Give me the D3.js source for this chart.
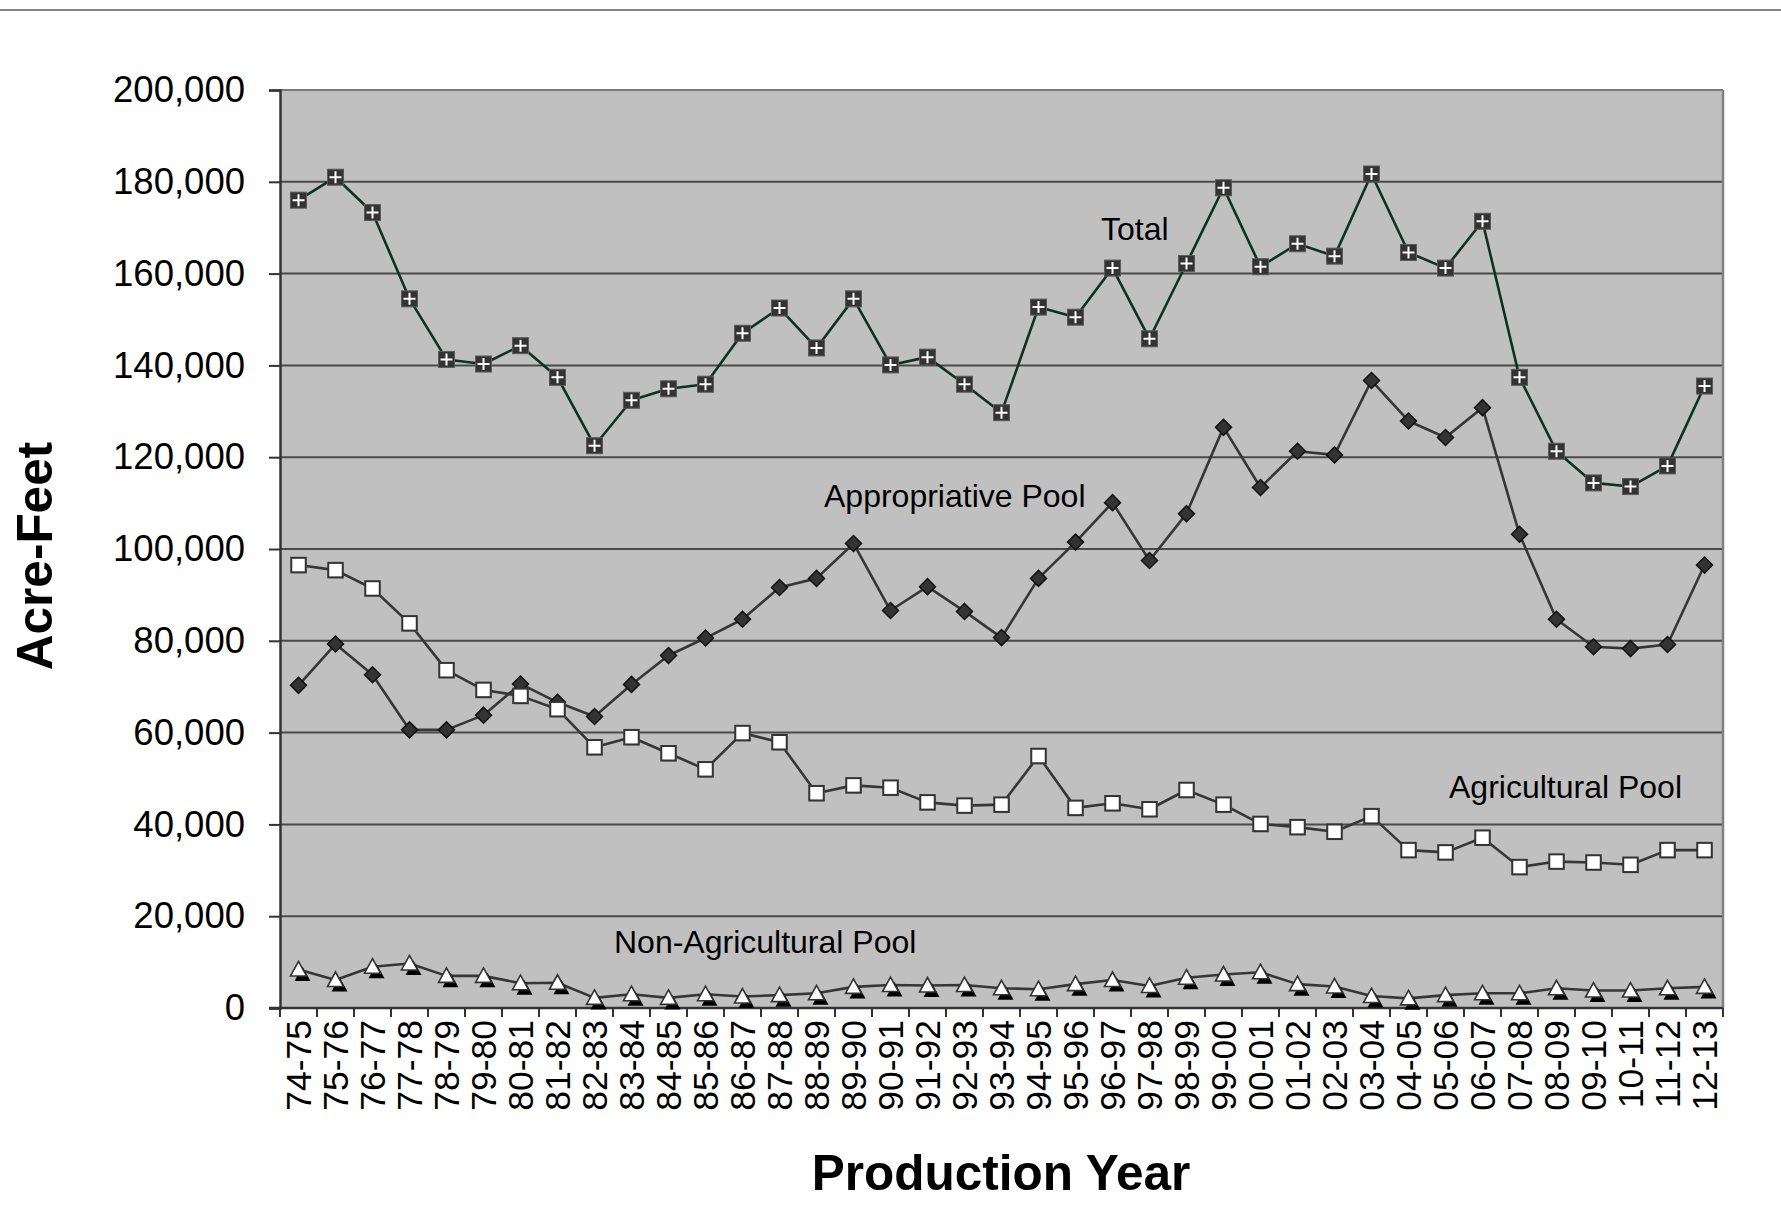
<!DOCTYPE html>
<html>
<head>
<meta charset="utf-8">
<script src="https://cdn.jsdelivr.net/npm/d3@7"></script>
<style>
  html, body { margin: 0; padding: 0; background: #ffffff; }
  svg { display: block; font-family: "Liberation Sans", Arial, Helvetica, sans-serif; }
</style>
</head>
<body>
<svg id="chart" width="1781" height="1223"></svg>
<script>
// Production years (x categories)
const categories = [
  "74-75","75-76","76-77","77-78","78-79","79-80","80-81","81-82","82-83","83-84",
  "84-85","85-86","86-87","87-88","88-89","89-90","90-91","91-92","92-93","93-94",
  "94-95","95-96","96-97","97-98","98-99","99-00","00-01","01-02","02-03","03-04",
  "04-05","05-06","06-07","07-08","08-09","09-10","10-11","11-12","12-13"
];

// Acre-feet per production year
const totalPool = [
  176000,181000,173300,154500,141300,140300,144300,137400,122500,132400,
  134900,135900,147000,152500,143800,154500,140100,141800,135900,129700,
  152700,150500,161200,145800,162200,178700,161500,166500,163800,181700,
  164600,161200,171400,137400,121300,114400,113600,118100,135500
];
const appropriativePool = [
  70300,79300,72600,60600,60600,63800,70600,66600,63500,70500,
  76800,80600,84700,91600,93600,101200,86600,91800,86400,80700,
  93600,101500,110100,97500,107700,126500,113400,121300,120500,136700,
  127900,124300,130800,103200,84700,78700,78300,79200,96500
];
const agriculturalPool = [
  96500,95400,91400,83800,73600,69300,68000,65100,56800,59000,
  55500,52000,59900,57900,46800,48500,48000,44800,44100,44300,
  54900,43600,44600,43300,47500,44300,40100,39400,38400,41800,
  34400,33900,37100,30700,31900,31700,31200,34400,34400
];
const nonAgriculturalPool = [
  8400,6100,9000,9700,7000,7000,5400,5500,2200,3000,
  2200,3000,2500,2800,3200,4600,5000,4900,5000,4300,
  4100,5200,6100,4800,6600,7300,7800,5200,4700,2600,
  2100,2800,3200,3200,4300,3800,3800,4300,4600
];

const yTicks = [0,20000,40000,60000,80000,100000,120000,140000,160000,180000,200000];

const seriesLabels = [
  { text: "Total", x: 1101, y: 240 },
  { text: "Appropriative Pool", x: 824, y: 507 },
  { text: "Agricultural Pool", x: 1449, y: 798 },
  { text: "Non-Agricultural Pool", x: 614, y: 953 }
];

const svg = d3.select("#chart");
const W = 1781, H = 1223;
const plot = { left: 280, right: 1723, top: 90, bottom: 1008 };

// rule along the very top of the canvas
svg.append("line")
  .attr("x1", 0).attr("x2", W).attr("y1", 10).attr("y2", 10)
  .attr("stroke", "#5a5a5a").attr("stroke-width", 1.5);

const x = d3.scaleBand().domain(categories).range([plot.left, plot.right]).padding(0);
const y = d3.scaleLinear().domain([0, 200000]).range([plot.bottom, plot.top]);
const cx = d => x(d) + x.bandwidth() / 2;

// plot background
svg.append("rect")
  .attr("x", plot.left).attr("y", plot.top)
  .attr("width", plot.right - plot.left).attr("height", plot.bottom - plot.top)
  .attr("fill", "#c0c0c0");

// horizontal gridlines
svg.append("g").selectAll("line").data(yTicks.filter(v => v > 0)).join("line")
  .attr("x1", plot.left).attr("x2", plot.right)
  .attr("y1", d => y(d)).attr("y2", d => y(d))
  .attr("stroke", d => d === 200000 ? "#7a7a7a" : "#4a4a4a")
  .attr("stroke-width", 2);

// right border of plot
svg.append("line")
  .attr("x1", plot.right).attr("x2", plot.right).attr("y1", plot.top).attr("y2", plot.bottom)
  .attr("stroke", "#808080").attr("stroke-width", 2.5);

// y axis
const yAxis = svg.append("g")
  .attr("transform", `translate(${plot.left},0)`)
  .call(d3.axisLeft(y).tickValues(yTicks).tickFormat(d3.format(",")).tickSize(11).tickPadding(24));
yAxis.select(".domain").attr("stroke", "#333").attr("stroke-width", 2.5);
yAxis.selectAll(".tick line").attr("stroke", "#333").attr("stroke-width", 2);
yAxis.selectAll("text").attr("font-size", 36.5).attr("fill", "#000")
  .attr("font-family", "'Liberation Sans', Arial, sans-serif");

// x axis: labels at category centres, ticks on category boundaries
const xAxis = svg.append("g")
  .attr("transform", `translate(0,${plot.bottom})`)
  .call(d3.axisBottom(x).tickSize(0).tickPadding(0));
xAxis.select(".domain").remove();
xAxis.selectAll(".tick text")
  .attr("transform", "translate(0,12) rotate(-90)")
  .attr("text-anchor", "end")
  .attr("x", 0).attr("y", 0).attr("dy", "0.35em")
  .attr("font-size", 35.5).attr("fill", "#000")
  .attr("font-family", "'Liberation Sans', Arial, sans-serif");

const boundaries = categories.map(c => x(c)).concat([plot.right]);
svg.append("g").selectAll("line").data(boundaries).join("line")
  .attr("x1", d => d).attr("x2", d => d)
  .attr("y1", plot.bottom).attr("y2", plot.bottom + 9)
  .attr("stroke", "#333").attr("stroke-width", 2);
svg.append("line")
  .attr("x1", plot.left - 11).attr("x2", plot.right)
  .attr("y1", plot.bottom).attr("y2", plot.bottom)
  .attr("stroke", "#333").attr("stroke-width", 2.5);

const line = d3.line().x((d, i) => cx(categories[i])).y(d => y(d));

function drawLine(values, color) {
  svg.append("path").datum(values)
    .attr("d", line).attr("fill", "none")
    .attr("stroke", color).attr("stroke-width", 2.6).attr("stroke-linejoin", "round");
}

// Appropriative Pool: dark diamonds
drawLine(appropriativePool, "#363636");
svg.append("g").selectAll("path").data(appropriativePool).join("path")
  .attr("transform", (d, i) => `translate(${cx(categories[i])},${y(d)})`)
  .attr("d", "M0,-8L8,0L0,8L-8,0Z")
  .attr("fill", "#333").attr("stroke", "#111").attr("stroke-width", 1.5);

// Agricultural Pool: white squares
drawLine(agriculturalPool, "#363636");
const agG = svg.append("g");
agG.selectAll("rect.sh").data(agriculturalPool).join("rect")
  .attr("class", "sh")
  .attr("x", (d, i) => cx(categories[i]) - 6).attr("y", d => y(d) - 6)
  .attr("width", 14.5).attr("height", 14.5)
  .attr("fill", "#8c8c8c").attr("opacity", 0.6);
agG.selectAll("rect.mk").data(agriculturalPool).join("rect")
  .attr("class", "mk")
  .attr("x", (d, i) => cx(categories[i]) - 7.25).attr("y", d => y(d) - 7.25)
  .attr("width", 14.5).attr("height", 14.5)
  .attr("fill", "#ffffff").attr("stroke", "#333").attr("stroke-width", 2);

// Non-Agricultural Pool: white triangles with black shadow
drawLine(nonAgriculturalPool, "#363636");
const tri = "M0,-8L8,6.5L-8,6.5Z";
const naG = svg.append("g");
naG.selectAll("path.sh").data(nonAgriculturalPool).join("path")
  .attr("class", "sh")
  .attr("transform", (d, i) => `translate(${cx(categories[i]) + 4},${y(d) + 5})`)
  .attr("d", tri).attr("fill", "#000");
naG.selectAll("path.mk").data(nonAgriculturalPool).join("path")
  .attr("class", "mk")
  .attr("transform", (d, i) => `translate(${cx(categories[i])},${y(d)})`)
  .attr("d", tri).attr("fill", "#ffffff").attr("stroke", "#333").attr("stroke-width", 1.6);

// Total: dark squares with white cross
drawLine(totalPool, "#0c3321");
const tG = svg.append("g").selectAll("g").data(totalPool).join("g")
  .attr("transform", (d, i) => `translate(${cx(categories[i])},${y(d)})`);
tG.append("rect")
  .attr("x", -8).attr("y", -8).attr("width", 16).attr("height", 16)
  .attr("fill", "#333").attr("stroke", "#5a5a5a").attr("stroke-width", 1);
tG.append("path")
  .attr("d", "M-6,0H6M0,-6V6")
  .attr("stroke", "#ffffff").attr("stroke-width", 2);

// series labels
svg.append("g").selectAll("text").data(seriesLabels).join("text")
  .attr("x", d => d.x).attr("y", d => d.y)
  .attr("font-size", 32).attr("fill", "#000")
  .text(d => d.text);

// axis titles
svg.append("text")
  .attr("transform", "translate(52,556) rotate(-90)")
  .attr("text-anchor", "middle")
  .attr("font-size", 49.5).attr("font-weight", "bold")
  .text("Acre-Feet");

svg.append("text")
  .attr("x", 1001).attr("y", 1190)
  .attr("text-anchor", "middle")
  .attr("font-size", 49.5).attr("font-weight", "bold")
  .text("Production Year");
</script>
</body>
</html>
